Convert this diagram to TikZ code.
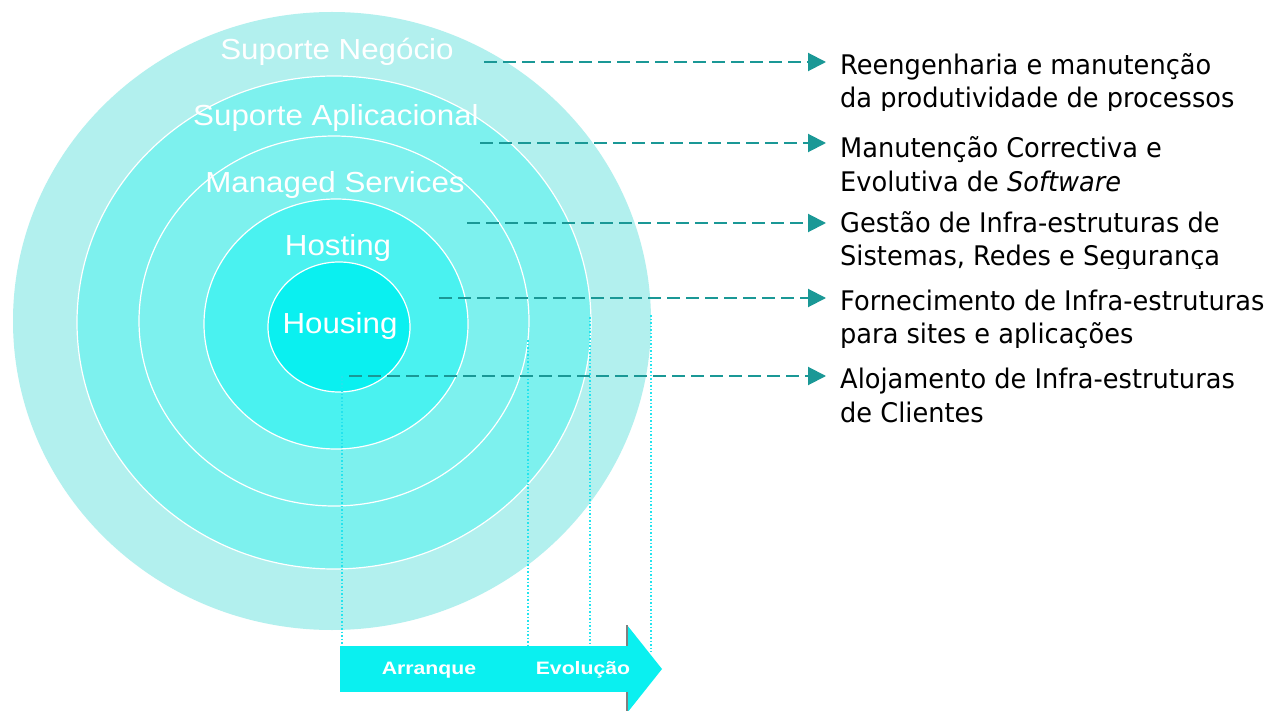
\documentclass[tikz,border=0pt]{standalone}
\usepackage{fontspec}
\usetikzlibrary{arrows.meta}
\newfontfamily\rightfont[FakeStretch=0.95]{DejaVu Sans}
\newfontfamily\ringfont[FakeStretch=1.08]{Liberation Sans}
\newfontfamily\arrfont[FakeStretch=1.18]{Liberation Sans}
\definecolor{ringA}{HTML}{B2F0EE}
\definecolor{ringB}{HTML}{7DF1EE}
\definecolor{ringC}{HTML}{4AF2F0}
\definecolor{ringD}{HTML}{0AF0F0}
\definecolor{dashteal}{HTML}{1A9896}
\definecolor{dotcyan}{HTML}{22E4EE}
\begin{document}
\begin{tikzpicture}[x=1pt,y=-1pt,
  ringlabel/.style={text=white,font=\ringfont\fontsize{29}{34}\selectfont,inner sep=0pt,anchor=base},
  arrlabel/.style={text=white,font=\arrfont\bfseries\fontsize{18}{20}\selectfont,inner sep=0pt,anchor=base},
  desc/.style={font=\rightfont\fontsize{27}{34}\selectfont,inner sep=0pt,anchor=base west,text=black},
  link/.style={dashteal,line width=2pt,dash pattern=on 13pt off 6pt,-{Triangle[length=18pt,width=18pt]}},
  guide/.style={dotcyan,line width=1.5pt,dotted},
  ringline/.style={draw=white,line width=1.2pt}]
\clip (0,0) rectangle (1274,711);
\fill[white] (0,0) rectangle (1274,711);
% rings
\fill[ringA] (332,321) ellipse [x radius=319pt, y radius=309pt];
\path[ringline,fill=ringB] (334,322.5) ellipse [x radius=257pt, y radius=246.5pt];
\path[ringline,fill=ringB] (334,321) ellipse [x radius=195pt, y radius=185pt];
\path[ringline,fill=ringC] (336,324) ellipse [x radius=132pt, y radius=125pt];
\path[ringline,fill=ringD] (339,327) ellipse [x radius=71pt, y radius=65pt];
% ring labels
\node[ringlabel] (lneg) at (337,60) {Suporte Negócio};
\node[ringlabel] (lapl) at (336,126) {Suporte Aplicacional};
\node[ringlabel] (lman) at (335,193) {Managed Services};
\node[ringlabel] (lhost) at (338,256) {Hosting};
\node[ringlabel] (lhous) at (340,333) {Housing};
% guide lines
\coordinate (g1t) at (342,376); \coordinate (g1b) at (342,646);
\coordinate (g2t) at (528,340); \coordinate (g2b) at (528,646);
\coordinate (g3t) at (590,317); \coordinate (g3b) at (590,646);
\coordinate (g4t) at (651,315); \coordinate (g4b) at (651,652);
\draw[guide] (g1t) -- (g1b);
\draw[guide] (g2t) -- (g2b);
\draw[guide] (g3t) -- (g3b);
\draw[guide] (g4t) -- (g4b);
% bottom arrow
\fill[ringD] (627,625) -- (662,669) -- (627,713) -- cycle;
\draw[gray,line width=2pt] (627,625) -- (627,713);
\fill[ringD] (340,646) rectangle (628.5,692);
\node[arrlabel] (arr) at (429,674) {Arranque};
\node[arrlabel] (evo) at (583,674) {Evolução};
% descriptions
\node[desc] (t1a) at (840,75) {Reengenharia e manutenção};
\begin{scope}
\clip (830,80) rectangle (1274,111);
\node[desc] (t1b) at (840,108) {da produtividade de processos};
\end{scope}
\node[desc] (t2a) at (840,158) {Manutenção Correctiva e};
\node[desc] (t2b) at (840,192) {Evolutiva de \textit{Software}};
\node[desc] (t3a) at (840,233) {Gestão de Infra-estruturas de};
\begin{scope}
\clip (830,240) rectangle (1274,269);
\node[desc] (t3b) at (840,266) {Sistemas, Redes e Segurança};
\end{scope}
\node[desc] (t4a) at (840,310) {Fornecimento de Infra-estruturas};
\begin{scope}
\clip (830,318) rectangle (1274,347);
\node[desc] (t4b) at (840,343) {para sites e aplicações};
\end{scope}
\node[desc] (t5a) at (840,388) {Alojamento de Infra-estruturas};
\node[desc] (t5b) at (840,422) {de Clientes};
% connectors
\coordinate (s1) at (484,62);  \coordinate (e1) at (826,62);
\coordinate (s2) at (480,143); \coordinate (e2) at (826,143);
\coordinate (s3) at (467,223); \coordinate (e3) at (826,223);
\coordinate (s4) at (439,298); \coordinate (e4) at (826,298);
\coordinate (s5) at (349,376); \coordinate (e5) at (826,376);
\draw[link] (s1) -- (e1);
\draw[link] (s2) -- (e2);
\draw[link] (s3) -- (e3);
\draw[link] (s4) -- (e4);
\draw[link] (s5) -- (e5);
\end{tikzpicture}
\end{document}
